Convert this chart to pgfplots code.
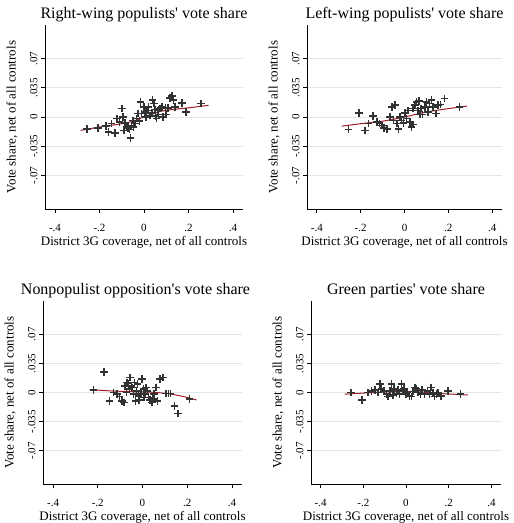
\documentclass[border=0pt]{standalone}
\usepackage{fontspec}
\setmainfont{Liberation Serif}[Ligatures=TeXOff]
\usepackage{pgfplots}
\pgfplotsset{compat=1.18}
\definecolor{mk}{RGB}{50,50,50}
\definecolor{fit}{RGB}{160,30,40}
\definecolor{gridc}{RGB}{222,232,235}

\pgfplotstableread{
x y
-0.257 -0.014
-0.207 -0.013
-0.172 -0.011
-0.160 -0.018
-0.131 -0.019
-0.146 -0.008
-0.121 -0.002
-0.110 -0.006
-0.100 0.010
-0.094 0.000
-0.090 -0.016
-0.086 -0.007
-0.078 -0.012
-0.071 -0.013
-0.065 -0.015
-0.060 -0.025
-0.056 -0.010
-0.050 -0.004
-0.048 -0.012
-0.041 -0.008
-0.033 -0.002
-0.026 0.004
-0.020 -0.005
-0.015 0.018
-0.011 0.004
0.000 0.012
0.005 0.006
0.010 0.000
0.014 0.008
0.020 0.012
0.027 0.002
0.035 0.005
0.039 0.020
0.045 0.016
0.050 0.009
0.051 0.001
0.057 -0.002
0.060 0.008
0.065 0.003
0.072 0.010
0.080 0.012
0.085 0.000
0.096 0.011
0.100 0.003
0.107 0.011
0.118 0.023
0.125 0.025
0.133 0.020
0.140 0.012
0.171 0.017
0.190 0.006
0.257 0.016
}\rwpts
\pgfplotstableread{
x y
-0.285 -0.016
-0.200 -0.012
-0.100 -0.008
-0.050 -0.005
0.000 0.000
0.050 0.005
0.100 0.008
0.200 0.011
0.290 0.014
}\rwfit

\pgfplotstableread{
x y
-0.256 -0.015
-0.207 0.005
-0.179 -0.016
-0.164 -0.008
-0.144 0.001
-0.126 -0.006
-0.114 -0.008
-0.103 -0.010
-0.093 -0.013
-0.081 -0.014
-0.066 0.000
-0.058 0.012
-0.050 -0.004
-0.043 0.014
-0.035 -0.008
-0.028 -0.014
-0.021 0.000
-0.013 -0.004
-0.005 -0.007
0.002 0.005
0.010 -0.002
0.017 0.008
0.025 -0.006
0.032 -0.012
0.038 0.010
0.040 -0.009
0.047 0.014
0.055 0.018
0.062 0.008
0.066 0.019
0.070 0.003
0.076 0.010
0.082 0.003
0.093 0.012
0.100 0.018
0.108 0.006
0.115 0.016
0.123 0.020
0.130 0.012
0.143 0.004
0.153 0.014
0.164 0.015
0.183 0.022
0.251 0.012
}\lwpts
\pgfplotstableread{
x y
-0.287 -0.011
-0.200 -0.008
-0.100 -0.005
0.000 0.000
0.100 0.006
0.200 0.010
0.286 0.013
}\lwfit

\pgfplotstableread{
x y
-0.220 0.003
-0.172 0.025
-0.147 -0.010
-0.129 0.000
-0.114 -0.002
-0.102 -0.005
-0.092 -0.010
-0.084 -0.012
-0.077 0.008
-0.072 0.000
-0.069 0.012
-0.062 0.011
-0.058 0.004
-0.055 0.018
-0.050 0.008
-0.047 0.006
-0.040 -0.002
-0.036 0.012
-0.032 -0.010
-0.026 0.002
-0.022 0.010
-0.018 -0.004
-0.015 -0.009
-0.008 -0.002
-0.003 0.016
0.004 0.004
0.008 -0.006
0.012 -0.002
0.016 0.006
0.022 0.002
0.027 -0.006
0.034 -0.009
0.042 -0.012
0.046 -0.008
0.052 -0.002
0.061 0.006
0.067 -0.010
0.079 0.016
0.091 0.018
0.105 -0.001
0.116 -0.001
0.126 -0.001
0.143 -0.016
0.160 -0.025
0.210 -0.008
}\nppts
\pgfplotstableread{
x y
-0.236 0.0035
-0.150 0.0020
-0.050 0.0010
0.050 0.0002
0.100 -0.0010
0.150 -0.0030
0.200 -0.0060
0.242 -0.0090
}\npfit

\pgfplotstableread{
x y
-0.258 0.000
-0.205 -0.009
-0.177 0.000
-0.161 0.002
-0.146 0.003
-0.130 0.000
-0.123 0.010
-0.115 0.004
-0.102 0.002
-0.091 -0.002
-0.084 -0.005
-0.076 0.002
-0.068 0.010
-0.062 -0.003
-0.056 0.004
-0.045 -0.001
-0.037 0.003
-0.030 -0.002
-0.021 0.010
-0.015 0.002
-0.009 0.004
-0.001 -0.002
0.006 0.000
0.017 -0.004
0.025 -0.005
0.033 0.001
0.041 0.006
0.048 0.004
0.056 0.000
0.068 -0.002
0.075 0.003
0.087 -0.002
0.100 0.002
0.110 -0.002
0.118 0.006
0.126 0.000
0.134 -0.005
0.142 -0.002
0.149 0.000
0.165 -0.004
0.196 0.002
0.255 -0.002
}\grpts
\pgfplotstableread{
x y
-0.287 -0.002
-0.150 0.000
-0.050 0.001
0.050 0.001
0.150 -0.001
0.290 -0.003
}\grfit

\pgfplotsset{
  panel/.style={
    anchor=south west, scale only axis,
    xmin=-0.445, xmax=0.445, ymin=-0.11, ymax=0.11,
    axis x line*=bottom, axis y line*=left,
    axis line style={line width=0.8pt, black},
    tick align=outside, major tick length=4pt,
    tick style={line width=0.8pt, black},
    xtick={-0.4,-0.2,0,0.2,0.4},
    xticklabels={-.4,-.2,0,.2,.4},
    ytick={-0.07,-0.035,0,0.035,0.07},
    yticklabels={-.07,-.035,0,.035,.07},
    ymajorgrids, grid style={gridc, line width=0.9pt},
    tick label style={font=\fontsize{11}{12}\selectfont},
    x tick label style={inner sep=0pt, yshift=-11pt},
    y tick label style={rotate=90, anchor=south},
    xlabel={District 3G coverage, net of all controls},
    ylabel={Vote share, net of all controls},
    label style={font=\fontsize{13}{14}\selectfont, inner sep=0pt},
    xlabel style={at={(axis description cs:0.5,0)}, anchor=center, yshift=-33pt},
    ylabel style={at={(axis description cs:0,0.5)}, anchor=center, yshift=33pt},
    title style={font=\fontsize{16}{18}\selectfont, at={(axis description cs:0.5,1)}, anchor=center, yshift=4pt},
    clip=false,
  },
  pts/.style={only marks, mark=+, mark size=3.8pt, mark options={line width=1.6pt, mk}},
  fitl/.style={fit, line width=1pt, no marks, smooth},
}

\begin{document}
\begin{tikzpicture}[x=1pt,y=1pt]
\useasboundingbox (0,0) rectangle (514,-523);

\begin{axis}[panel, at={(45pt,-209pt)}, width=198pt, height=184pt,
  title={Right-wing populists' vote share}]
\addplot[pts] table {\rwpts};
\addplot[fitl] table {\rwfit};
\end{axis}

\begin{axis}[panel, at={(307pt,-209pt)}, width=195pt, height=184pt,
  title={Left-wing populists' vote share}]
\addplot[pts] table {\lwpts};
\addplot[fitl] table {\lwfit};
\end{axis}

\begin{axis}[panel, at={(43pt,-484pt)}, width=199pt, height=183pt,
  title={Nonpopulist opposition's vote share},
  title style={xshift=-7pt}]
\addplot[pts] table {\nppts};
\addplot[fitl] table {\npfit};
\end{axis}

\begin{axis}[panel, at={(311pt,-484pt)}, width=190pt, height=183pt,
  title={Green parties' vote share}]
\addplot[pts] table {\grpts};
\addplot[fitl] table {\grfit};
\end{axis}
\end{tikzpicture}
\end{document}
